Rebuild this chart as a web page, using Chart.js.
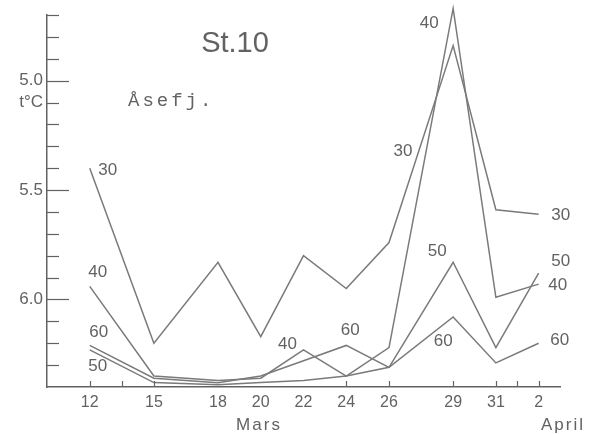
<!DOCTYPE html>
<html>
<head>
<meta charset="utf-8">
<script src="https://cdn.jsdelivr.net/npm/chart.js@4"></script>
<style>
html,body{margin:0;padding:0;background:#fff;}
#wrap{width:591px;height:434px;position:relative;}
</style>
</head>
<body>
<div id="wrap"><canvas id="c" width="591" height="434"></canvas></div>
<script>
// Days of March (April 2 = 33)
const days = [12, 15, 18, 20, 22, 24, 26, 29, 31, 33];
const dayLabels = ['12', '15', '18', '20', '22', '24', '26', '29', '31', '2'];
const xTickMarks = [12, 13.5, 15, 24, 26, 29, 31, 32, 33];

// Temperature (t °C) per depth (m)
const depth30 = [5.40, 6.20, 5.83, 6.17, 5.80, 5.95, 5.74, 4.84, 5.59, 5.61];
const depth40 = [5.94, 6.35, 6.37, 6.36, 6.23, 6.35, 6.22, 4.67, 5.99, 5.93];
const depth50 = [6.23, 6.38, 6.39, 6.38, 6.37, 6.35, 6.31, 5.83, 6.22, 5.88];
const depth60 = [6.21, 6.36, 6.38, 6.35, 6.28, 6.21, 6.31, 6.08, 6.29, 6.20];

const yTickValues = [4.7, 4.8, 4.9, 5.0, 5.1, 5.2, 5.3, 5.4, 5.5, 5.6, 5.7, 5.8, 5.9, 6.0, 6.1, 6.2, 6.3, 6.4];
const yTickText = {50: '5.0', 51: 't°C', 55: '5.5', 60: '6.0'};

const series = {'30': depth30, '40': depth40, '50': depth50, '60': depth60};
// depth label: [series, point index, dx, dy]
const depthLabels = [
  ['30', 0, 18, 2], ['40', 0, 8, -14], ['60', 0, 9, -13], ['50', 0, 8, 17],
  ['40', 4, -16, -5], ['60', 5, 4, -15],
  ['30', 6, 14, -91], ['40', 7, -24, 15], ['50', 7, -16, -11], ['60', 7, -10, 24],
  ['30', 9, 22, 1], ['50', 9, 22, -12], ['40', 9, 19, 1], ['60', 9, 21, -3]
];

const INK = '#626262';
const LINE = '#7a7a7a';
const NUMFONT = '"Liberation Sans", Arial, sans-serif';

const datasets = Object.keys(series).map(k => ({
  label: k,
  data: days.map((d, i) => ({x: d, y: series[k][i]})),
  borderColor: LINE,
  borderWidth: 1.5,
  pointRadius: 0,
  tension: 0,
  fill: false,
  clip: false
}));

const annot = {
  id: 'annot',
  afterDatasetsDraw(chart) {
    const {ctx, scales: {x, y}, chartArea: a} = chart;
    ctx.save();
    ctx.strokeStyle = INK;
    ctx.lineWidth = 1.2;
    y.ticks.forEach(t => {
      const v = Math.round(t.value * 10);
      if (v >= 64) return;
      const len = (v % 5 === 0) ? 22 : 12;
      const py = Math.round(y.getPixelForValue(t.value)) + 0.5;
      ctx.beginPath(); ctx.moveTo(a.left, py); ctx.lineTo(a.left + len, py); ctx.stroke();
    });
    xTickMarks.forEach(d => {
      const px = Math.round(x.getPixelForValue(d)) + 0.5;
      ctx.beginPath(); ctx.moveTo(px, a.bottom); ctx.lineTo(px, a.bottom - 6); ctx.stroke();
    });
    ctx.fillStyle = INK;
    ctx.textAlign = 'center';
    ctx.textBaseline = 'middle';
    ctx.font = '17px ' + NUMFONT;
    depthLabels.forEach(([k, i, dx, dy]) => {
      const px = x.getPixelForValue(days[i]);
      const py = y.getPixelForValue(series[k][i]);
      ctx.fillText(k, px + dx, py + dy);
    });
    ctx.font = '29px ' + NUMFONT;
    ctx.fillText('St.10', 235, 44);
    ctx.font = '17px ' + NUMFONT;
    if ('letterSpacing' in ctx) ctx.letterSpacing = '2px';
    ctx.fillText('Mars', 259, 425);
    ctx.textAlign = 'left';
    ctx.fillText('April', 541, 425);
    ctx.font = '19px "Liberation Mono", monospace';
    if ('letterSpacing' in ctx) ctx.letterSpacing = '3px';
    ctx.textBaseline = 'alphabetic';
    ctx.fillText('Åsefj.', 128, 106);
    ctx.restore();
  }
};

new Chart(document.getElementById('c'), {
  type: 'line',
  data: {datasets},
  options: {
    responsive: false,
    animation: false,
    devicePixelRatio: 1,
    layout: {padding: {left: 0, top: 15, right: 31, bottom: 0}},
    plugins: {legend: {display: false}, tooltip: {enabled: false}},
    scales: {
      x: {
        type: 'linear',
        min: 10, max: 34,
        afterFit: s => { s.height = 47; },
        afterBuildTicks: s => { s.ticks = days.map(v => ({value: v})); },
        grid: {display: false, drawTicks: false},
        border: {display: true, color: INK, width: 1.5},
        ticks: {
          autoSkip: false, maxRotation: 0, padding: 6,
          color: INK, font: {family: NUMFONT, size: 16},
          callback: v => { const i = days.indexOf(v); return i >= 0 ? dayLabels[i] : ''; }
        }
      },
      y: {
        type: 'linear',
        reverse: true,
        min: 4.7, max: 6.4,
        afterFit: s => { s.width = 47; },
        afterBuildTicks: s => { s.ticks = yTickValues.map(v => ({value: v})); },
        grid: {display: false, drawTicks: false},
        border: {display: true, color: INK, width: 1.5},
        ticks: {
          autoSkip: false, padding: 4,
          color: INK, font: {family: NUMFONT, size: 17},
          callback: v => yTickText[Math.round(v * 10)] || ''
        }
      }
    }
  },
  plugins: [annot]
});
</script>
</body>
</html>
